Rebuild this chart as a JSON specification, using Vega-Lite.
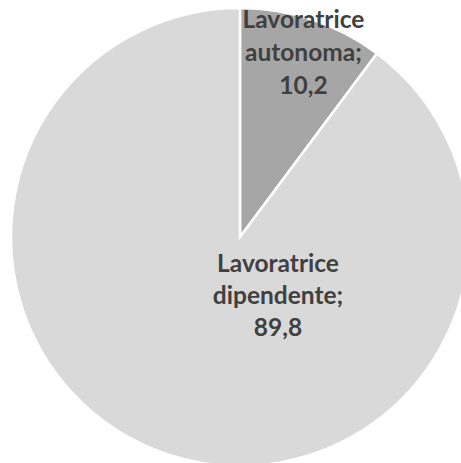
{
  "$schema": "https://vega.github.io/schema/vega-lite/v6.json",
  "width": 480,
  "height": 474,
  "padding": 0,
  "autosize": {"type": "none"},
  "background": "white",
  "view": {"stroke": null},
  "data": {
    "values": [
      {"categoria": "Lavoratrice autonoma", "valore": 10.2, "ordine": 1},
      {"categoria": "Lavoratrice dipendente", "valore": 89.8, "ordine": 2}
    ]
  },
  "transform": [
    {"calculate": "[split(datum.categoria, ' ')[0], split(datum.categoria, ' ')[1] + ';', replace(format(datum.valore, '.1f'), '.', ',')]", "as": "etichetta"}
  ],
  "encoding": {
    "theta": {"field": "valore", "type": "quantitative", "stack": true},
    "order": {"field": "ordine", "type": "quantitative"}
  },
  "layer": [
    {
      "mark": {"type": "arc", "outerRadius": 229, "stroke": "white", "strokeWidth": 2.5},
      "encoding": {
        "color": {
          "field": "categoria",
          "type": "nominal",
          "scale": {"domain": ["Lavoratrice autonoma", "Lavoratrice dipendente"], "range": ["#A6A6A6", "#D9D9D9"]},
          "legend": null
        }
      }
    },
    {
      "transform": [{"filter": "datum.ordine == 1"}],
      "mark": {"type": "text", "radius": 195, "dx": 2, "dy": -31, "font": "Lato", "fontWeight": "bold", "fontSize": 24.5, "lineHeight": 33, "color": "#404040", "align": "center", "baseline": "middle"},
      "encoding": {"text": {"field": "etichetta"}}
    },
    {
      "transform": [{"filter": "datum.ordine == 2"}],
      "mark": {"type": "text", "radius": 0, "dx": 38, "dy": 28, "font": "Lato", "fontWeight": "bold", "fontSize": 24.5, "lineHeight": 32, "color": "#404040", "align": "center", "baseline": "middle"},
      "encoding": {"text": {"field": "etichetta"}}
    }
  ]
}
